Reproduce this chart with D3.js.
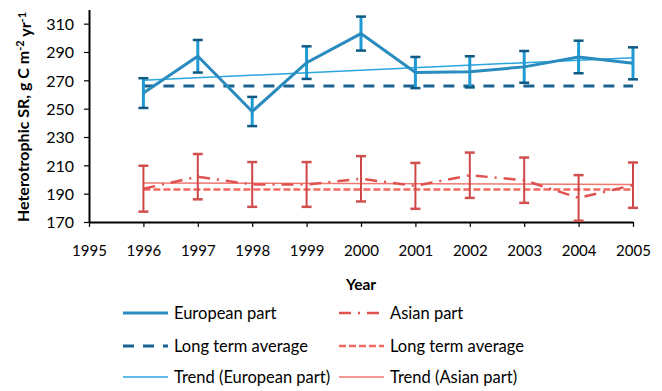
<!DOCTYPE html>
<html>
<head>
<meta charset="utf-8">
<script src="https://cdn.jsdelivr.net/npm/d3@7/dist/d3.min.js"></script>
<style>
  html, body { margin: 0; padding: 0; background: #fff; }
  svg { display: block; font-family: Lato, "Open Sans", sans-serif; }
</style>
</head>
<body>
<svg id="chart" width="662" height="391"></svg>
<script>
// Heterotrophic soil respiration, 1996-2005
const years = [1996, 1997, 1998, 1999, 2000, 2001, 2002, 2003, 2004, 2005];

const europeValues = [261, 287, 248, 282.5, 303, 275.5, 276, 279.5, 286.5, 282];
const europeErrors = [10.5, 11.5, 10.3, 11.5, 12, 11, 11, 11.2, 11.5, 11.3];
const europeAverage = 266;
const europeTrend = [270, 286];   // values at first and last year

const asiaValues = [193.5, 202, 196.5, 196.5, 200.5, 195.5, 203, 199.5, 187, 196];
const asiaErrors = [16.2, 16, 15.8, 15.8, 16, 16.2, 16, 16, 16.1, 16];
const asiaAverage = 193;
const asiaTrend = [197.5, 196.5];

const xTicks = d3.range(1995, 2006);
const yTicks = d3.range(170, 311, 20);

const svg = d3.select("#chart");
const x = d3.scaleLinear().domain([1995, 2005]).range([89, 633]);
const y = d3.scaleLinear().domain([170, 320]).range([222, 9.5]);

const c = {
  euLine: "#2a8bbf", euBar: "#1e9ad4", euCap: "#0f5a83", euAvg: "#1a6290", euTrend: "#2aa5de",
  asLine: "#e0524f", asBar: "#cf4646", asCap: "#d24f4f", asAvg: "#f26a5f", asTrend: "#f07870"
};

// Axes
const xAxis = svg.append("g").attr("transform", `translate(0,${y(170)})`)
  .call(d3.axisBottom(x).tickValues(xTicks).tickFormat(d3.format("d")).tickSize(5).tickSizeOuter(0));
const yAxis = svg.append("g").attr("transform", `translate(${x(1995)},0)`)
  .call(d3.axisLeft(y).tickValues(yTicks).tickSize(5).tickSizeOuter(0));
[xAxis, yAxis].forEach(g => {
  g.select(".domain").attr("stroke", "#000").attr("stroke-width", 2);
  g.selectAll(".tick line").attr("stroke", "#000").attr("stroke-width", 1.2);
  g.selectAll("text").attr("fill", "#000").style("font-family", "Lato, sans-serif");
});
xAxis.selectAll("text").style("font-size", "15px").attr("dy", "0").attr("y", 34);
yAxis.selectAll("text").style("font-size", "16px").attr("x", -15).attr("dy", "0.36em");

// Axis titles
svg.append("text").attr("x", 361).attr("y", 290).attr("text-anchor", "middle")
  .style("font-weight", "bold").style("font-size", "15.5px").attr("fill", "#000").text("Year");

const yTitle = svg.append("text")
  .attr("transform", "translate(28.5,117) rotate(-90)")
  .attr("text-anchor", "middle")
  .style("font-weight", "bold").style("font-size", "16px").attr("fill", "#000");
yTitle.append("tspan").text("Heterotrophic SR, g C m");
yTitle.append("tspan").attr("dy", "-0.45em").style("font-size", "11px").text("-2");
yTitle.append("tspan").attr("dy", "0.45em").text(" yr");
yTitle.append("tspan").attr("dy", "-0.45em").style("font-size", "11px").text("-1");

const line = d3.line().x(d => x(d[0])).y(d => y(d[1]));
const plot = svg.append("g");

function hline(val, color, width, dash) {
  plot.append("path").datum([[years[0], val], [years[years.length - 1], val]])
    .attr("d", line).attr("fill", "none").attr("stroke", color)
    .attr("stroke-width", width).attr("stroke-dasharray", dash);
}
function trend(ends, color) {
  plot.append("path").datum([[years[0], ends[0]], [years[years.length - 1], ends[1]]])
    .attr("d", line).attr("fill", "none").attr("stroke", color).attr("stroke-width", 1.5);
}
function errorBars(vals, errs, barColor, capColor, width) {
  const g = plot.append("g");
  years.forEach((yr, i) => {
    const top = vals[i] + errs[i], bot = vals[i] - errs[i];
    g.append("line").attr("x1", x(yr)).attr("x2", x(yr)).attr("y1", y(top)).attr("y2", y(bot))
      .attr("stroke", barColor).attr("stroke-width", width);
    [top, bot].forEach(v => g.append("line")
      .attr("x1", x(yr) - 5).attr("x2", x(yr) + 5).attr("y1", y(v)).attr("y2", y(v))
      .attr("stroke", capColor).attr("stroke-width", 2.5));
  });
}

// Asian part
hline(asiaAverage, c.asAvg, 2.5, "7,3");
trend(asiaTrend, c.asTrend);
errorBars(asiaValues, asiaErrors, c.asBar, c.asCap, 2);
plot.append("path").datum(years.map((yr, i) => [yr, asiaValues[i]]))
  .attr("d", line).attr("fill", "none").attr("stroke", c.asLine)
  .attr("stroke-width", 2.5).attr("stroke-dasharray", "12,7,2,7");

// European part
hline(europeAverage, c.euAvg, 3, "11,9");
trend(europeTrend, c.euTrend);
errorBars(europeValues, europeErrors, c.euBar, c.euCap, 3);
plot.append("path").datum(years.map((yr, i) => [yr, europeValues[i]]))
  .attr("d", line).attr("fill", "none").attr("stroke", c.euLine).attr("stroke-width", 3);

// Legend
const legendItems = [
  { label: "European part", color: c.euLine, width: 3, dash: null, col: 0, row: 0 },
  { label: "Long term average", color: c.euAvg, width: 3, dash: "11,9", col: 0, row: 1 },
  { label: "Trend (European part)", color: c.euTrend, width: 1.5, dash: null, col: 0, row: 2 },
  { label: "Asian part", color: c.asLine, width: 2.5, dash: "12,7,2,7", col: 1, row: 0 },
  { label: "Long term average", color: c.asAvg, width: 2.5, dash: "7,3", col: 1, row: 1 },
  { label: "Trend (Asian part)", color: c.asTrend, width: 1.5, dash: null, col: 1, row: 2 }
];
const colX = [[123, 168, 174], [339, 384, 390]];
const rowY = [313, 346, 377];
const legend = svg.append("g");
legendItems.forEach(it => {
  const [x0, x1, tx] = colX[it.col];
  const yy = rowY[it.row];
  legend.append("line").attr("x1", x0).attr("x2", x1).attr("y1", yy).attr("y2", yy)
    .attr("stroke", it.color).attr("stroke-width", it.width).attr("stroke-dasharray", it.dash);
  legend.append("text").attr("x", tx).attr("y", yy).attr("dy", "0.35em")
    .style("font-size", "16.5px").attr("fill", "#000").text(it.label);
});
</script>
</body>
</html>
